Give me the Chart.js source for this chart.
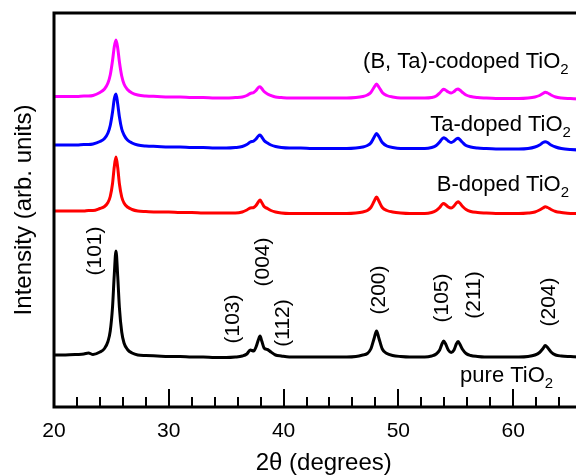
<!DOCTYPE html>
<html>
<head>
<meta charset="utf-8">
<script src="https://cdn.jsdelivr.net/npm/chart.js@4.4.1/dist/chart.umd.min.js"></script>
<style>
  html, body { margin: 0; padding: 0; background: #fff; overflow: hidden; }
  #wrap { width: 576px; height: 475px; overflow: hidden; }
</style>
</head>
<body>
<div id="wrap"><canvas id="xrd" width="594" height="475"></canvas></div>
<script>
// ── Data (2θ grid shared by every pattern, intensities stacked in arb. units) ──
const twoTheta = [
    20, 21, 22, 22.6, 23.0, 23.4, 24.0, 24.4, 24.7, 24.9,
    25.1, 25.25, 25.4, 25.55, 25.7, 25.9, 26.1, 26.4, 26.8, 27.3,
    28, 29, 30, 31, 32, 33, 34, 35, 35.8, 36.4,
    36.8, 37.1, 37.4, 37.6, 37.8, 37.95, 38.1, 38.3, 38.6, 38.9,
    39.3, 39.8, 40.5, 41.5, 42.5, 43.5, 44.5, 45.5, 46.3, 46.9,
    47.3, 47.6, 47.9, 48.1, 48.3, 48.6, 49.0, 49.5, 50.2, 51,
    51.7, 52.3, 52.9, 53.3, 53.6, 53.8, 53.95, 54.1, 54.35, 54.6,
    54.85, 55.05, 55.2, 55.35, 55.6, 55.9, 56.3, 56.9, 57.5, 58.5,
    59.5, 60.5, 61.3, 61.9, 62.3, 62.6, 62.8, 63.0, 63.3, 63.7,
    64.2, 65, 66, 67
];

const pureTiO2 = [
    52, 52, 52.5, 53, 54, 52.5, 55, 58.5, 65.5, 76,
    100, 132, 156, 131, 99, 75, 64, 57.5, 54, 52,
    51.5, 51, 50.5, 50.5, 50, 50, 49.5, 49.5, 50, 51,
    53, 57, 56, 60, 67, 71, 66, 59, 57.5, 55,
    52, 51, 50, 50, 50, 50, 50, 50, 50.5, 52,
    53.5, 58, 69, 76, 69, 58, 53.5, 51.5, 50.5, 50,
    50, 50, 51, 53, 57, 63, 66, 63.5, 57, 54.5,
    57, 63, 65.5, 63, 57.5, 53.5, 51.5, 50.5, 50, 50,
    50, 50, 50.5, 52, 54.5, 58.5, 61.5, 59.5, 55, 52,
    51, 50.5, 50, 50
];

const bDoped = [
    196, 196, 196, 196, 196.5, 196.5, 198.5, 200.5, 204.5, 210.5,
    223.5, 240, 250, 239.5, 223, 210, 204, 200, 197.5, 196,
    195.5, 195, 195, 194.5, 194.5, 194, 194, 194, 194, 195,
    197, 199, 199.5, 201.5, 205, 207, 204.5, 200.5, 198.5, 196.5,
    195, 194, 193.5, 193.5, 193.5, 193.5, 193.5, 193.5, 194, 195,
    196.5, 199.5, 206, 210, 206, 199.5, 196.5, 195, 194, 193.5,
    193.5, 193.5, 194.5, 196.5, 199.5, 202.5, 203.5, 202.5, 200, 199,
    201, 204, 205.3, 204, 200.5, 197.5, 195.5, 194.5, 194, 193.5,
    193.5, 193.5, 194, 195, 197, 199, 200.3, 199.5, 197.5, 195.5,
    194.5, 193.5, 193.5, 193.5
];

const taDoped = [
    262, 262, 262, 262.5, 262.5, 263, 265.5, 268.5, 274, 281.5,
    295, 308, 313, 303, 290, 278, 272, 267, 264, 262,
    261, 260.5, 260, 260, 259.5, 259.5, 259, 259, 259.5, 260.5,
    262.5, 265, 266, 268, 271, 272, 270, 266.5, 264, 262,
    260.5, 259.5, 259, 259, 258.5, 258.5, 258.5, 258.5, 259, 260,
    261.5, 264, 270, 273.5, 270.5, 264.5, 261, 259.5, 258.5, 258.5,
    258.5, 258.5, 259.5, 261.5, 265, 268, 269.3, 268.5, 266, 264.5,
    266, 268, 268.7, 267.5, 264.5, 261.5, 260, 259, 258.5, 258,
    258, 258, 258.5, 260, 262, 264.5, 265.3, 264.5, 262, 260,
    258.5, 257.5, 257, 257
];

const coDoped = [
    310.5, 310.5, 310.5, 311, 311, 311.5, 314.5, 318, 324, 332,
    346.5, 360, 367, 359, 345, 331, 323, 317.5, 314, 312,
    311, 310.5, 310, 310, 309.5, 309.5, 309, 309, 309.5, 310,
    311.5, 313.5, 314.5, 316.5, 319.5, 320.3, 318.5, 315.5, 313, 311.5,
    310, 309.5, 309, 309, 309, 309, 309, 309, 309.5, 310.5,
    312, 314.5, 320, 323, 320, 314.5, 311.5, 310, 309, 309,
    309, 309, 309.5, 311, 314, 316.5, 317.7, 317, 315, 314,
    315.5, 317.5, 318, 317, 314.5, 312, 310.5, 309.5, 309, 308.5,
    308.5, 308.5, 309, 310, 311.5, 313.5, 314.7, 314, 312, 310,
    309, 308.5, 308, 308
];

const seriesNames = ['pure TiO', 'B-doped TiO', 'Ta-doped TiO', '(B, Ta)-codoped TiO'];
const seriesColors = ['#000000', '#FF0000', '#0000FF', '#FF00FF'];
const nameX = [55.38, 53.35, 52.77, 46.93];
const nameY = [25.3, 216.3, 276.3, 338.7];

const hklLabels = ['(101)', '(103)', '(004)', '(112)', '(200)', '(105)', '(211)', '(204)'];
const hklX = [23.57, 35.6, 38.2, 39.96, 48.3, 53.8, 56.6, 63.14];
const hklY = [156, 88, 145, 84, 117, 109, 112, 105];

const tickValues = [20, 22, 24, 26, 28, 30, 32, 34, 36, 38, 40, 42, 44, 46, 48, 50, 52, 54, 56, 58, 60, 62, 64, 66];
const majorTicks = [20, 30, 40, 50, 60];

const FONT = '"Liberation Sans", Arial, sans-serif';

// ── Frame, inward ticks and text labels ──
const xrdDecor = {
    id: 'xrdDecor',
    afterDraw(chart) {
        const { ctx, chartArea: a, scales: { x, y } } = chart;
        ctx.save();
        ctx.strokeStyle = '#000';
        ctx.lineWidth = 3;
        ctx.beginPath();
        ctx.moveTo(a.right + 5, a.top); ctx.lineTo(a.left, a.top);
        ctx.lineTo(a.left, a.bottom); ctx.lineTo(a.right + 5, a.bottom);
        ctx.stroke();

        ctx.lineWidth = 2;
        tickValues.forEach(v => {
            const px = Math.round(x.getPixelForValue(v));
            const len = majorTicks.includes(v) ? 18 : 10;
            ctx.beginPath(); ctx.moveTo(px, a.bottom); ctx.lineTo(px, a.bottom - len); ctx.stroke();
        });

        // sample names with subscript 2
        ctx.fillStyle = '#000';
        ctx.textAlign = 'left'; ctx.textBaseline = 'alphabetic';
        seriesNames.forEach((name, i) => {
            const px = x.getPixelForValue(nameX[i]), py = y.getPixelForValue(nameY[i]);
            ctx.font = '22px ' + FONT;
            ctx.fillText(name, px, py);
            const w = ctx.measureText(name).width;
            ctx.font = '15px ' + FONT;
            ctx.fillText('2', px + w, py + 6);
        });

        // hkl reflections, rotated
        ctx.font = '21px ' + FONT;
        ctx.textAlign = 'center'; ctx.textBaseline = 'middle';
        hklLabels.forEach((lbl, i) => {
            ctx.save();
            ctx.translate(x.getPixelForValue(hklX[i]), y.getPixelForValue(hklY[i]));
            ctx.rotate(-Math.PI / 2);
            ctx.fillText(lbl, 0, 0);
            ctx.restore();
        });
        ctx.restore();
    }
};

const toPoints = ys => twoTheta.map((t, i) => ({ x: t, y: ys[i] }));
const patterns = [pureTiO2, bDoped, taDoped, coDoped];

new Chart(document.getElementById('xrd'), {
    type: 'line',
    data: {
        datasets: patterns.map((ys, i) => ({
            label: seriesNames[i] + '2',
            data: toPoints(ys),
            borderColor: seriesColors[i],
            borderWidth: 3,
            pointRadius: 0,
            cubicInterpolationMode: 'monotone',
            fill: false
        }))
    },
    options: {
        responsive: false, animation: false, devicePixelRatio: 1,
        layout: { padding: { top: 13, left: 0, right: 0, bottom: 0 } },
        plugins: { legend: { display: false }, tooltip: { enabled: false } },
        scales: {
            x: {
                type: 'linear', min: 20, max: 67,
                afterBuildTicks: s => { s.ticks = tickValues.map(v => ({ value: v })); },
                afterFit: s => { s.height = 68; },
                grid: { display: false, drawTicks: false }, border: { display: false },
                ticks: { autoSkip: false, maxRotation: 0, padding: 12, color: '#000', font: { size: 21, family: FONT },
                    callback: v => majorTicks.includes(v) ? String(v) : '' },
                title: { display: true, text: '2θ (degrees)', color: '#000', font: { size: 24, family: FONT }, padding: { top: 0, bottom: -3 } }
            },
            y: {
                min: 0, max: 394,
                afterFit: s => { s.width = 54; },
                grid: { display: false, drawTicks: false }, border: { display: false },
                ticks: { display: false },
                title: { display: true, text: 'Intensity (arb. units)', color: '#000', font: { size: 24, family: FONT }, padding: { top: 10, bottom: 0 } }
            }
        }
    },
    plugins: [xrdDecor]
});
</script>
</body>
</html>
